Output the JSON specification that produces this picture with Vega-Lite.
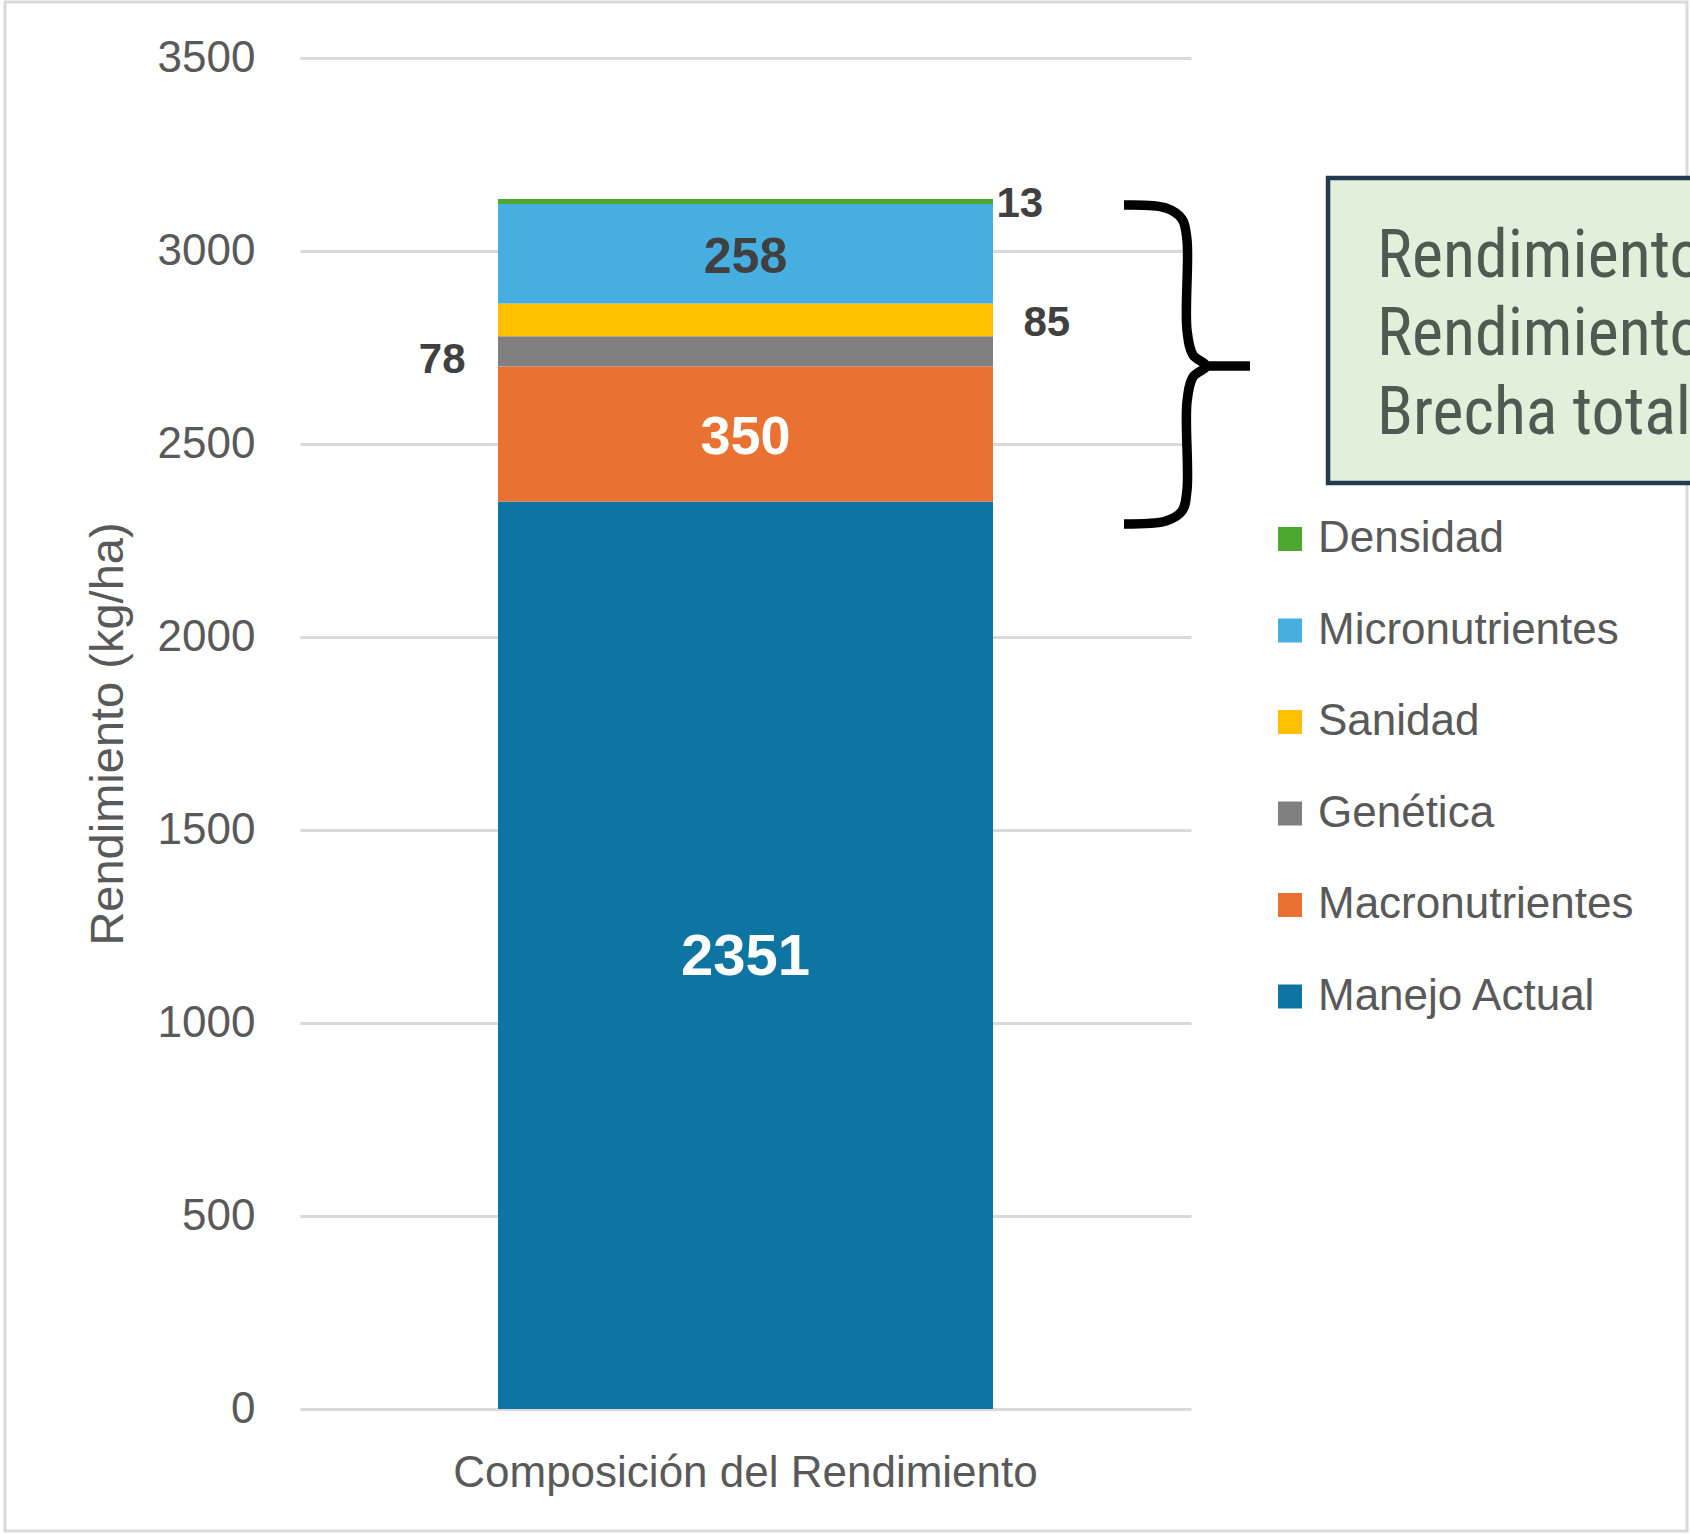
{
  "$schema": "https://vega.github.io/schema/vega-lite/v6.json",
  "width": 891,
  "height": 1351,
  "autosize": {"type": "none"},
  "padding": {"left": 300, "top": 58, "right": 499, "bottom": 125},
  "background": "#ffffff",
  "config": {"view": {"stroke": null}, "font": "Liberation Sans, Arial, sans-serif"},
  "datasets": {
    "rendimiento": [
      {"categoria": "Composición del Rendimiento", "serie": "Manejo Actual", "valor": 2351, "orden": 1},
      {"categoria": "Composición del Rendimiento", "serie": "Macronutrientes", "valor": 350, "orden": 2},
      {"categoria": "Composición del Rendimiento", "serie": "Genética", "valor": 78, "orden": 3},
      {"categoria": "Composición del Rendimiento", "serie": "Sanidad", "valor": 85, "orden": 4},
      {"categoria": "Composición del Rendimiento", "serie": "Micronutrientes", "valor": 258, "orden": 5},
      {"categoria": "Composición del Rendimiento", "serie": "Densidad", "valor": 13, "orden": 6}
    ],
    "llave": [
      {"trazo": "curva", "paso": 1, "bx": 0.9248, "by": 3119.2},
      {"trazo": "curva", "paso": 2, "bx": 0.9719, "by": 3111.4},
      {"trazo": "curva", "paso": 3, "bx": 0.9899, "by": 3082.9},
      {"trazo": "curva", "paso": 4, "bx": 0.9955, "by": 3028.5},
      {"trazo": "curva", "paso": 5, "bx": 0.9955, "by": 2795.3},
      {"trazo": "curva", "paso": 6, "bx": 1.0022, "by": 2730.6},
      {"trazo": "curva", "paso": 7, "bx": 1.0168, "by": 2702.1},
      {"trazo": "curva", "paso": 8, "bx": 1.0022, "by": 2673.6},
      {"trazo": "curva", "paso": 9, "bx": 0.9955, "by": 2608.8},
      {"trazo": "curva", "paso": 10, "bx": 0.9955, "by": 2380.8},
      {"trazo": "curva", "paso": 11, "bx": 0.9899, "by": 2326.4},
      {"trazo": "curva", "paso": 12, "bx": 0.9719, "by": 2300.5},
      {"trazo": "curva", "paso": 13, "bx": 0.9248, "by": 2292.7},
      {"trazo": "punta", "paso": 1, "bx": 1.0101, "by": 2702.1},
      {"trazo": "punta", "paso": 2, "bx": 1.0662, "by": 2702.1}
    ],
    "recuadro": [
      {"x1": 1.1538, "x2": 1.75, "y1": 3189.1, "y2": 2399.0}
    ],
    "textos": [
      {"linea": "Rendimiento", "tx": 1.2088, "ty": 2984},
      {"linea": "Rendimiento", "tx": 1.2088, "ty": 2782},
      {"linea": "Brecha total", "tx": 1.2088, "ty": 2577}
    ],
    "marco": [
      {"x1": -0.3311, "x2": 1.5567, "y1": 3645, "y2": -316}
    ]
  },
  "layer": [
    {
      "data": {"name": "rendimiento"},
      "encoding": {
        "x": {
          "field": "categoria", "type": "nominal",
          "scale": {"paddingInner": 0, "paddingOuter": 0.4},
          "axis": {"title": null, "labelAngle": 0, "domain": false, "ticks": false, "labelFontSize": 44, "labelColor": "#595959", "labelPadding": 42, "labelLimit": 1200}
        },
        "y": {
          "field": "valor", "type": "quantitative", "stack": "zero",
          "scale": {"domain": [0, 3500], "nice": false},
          "axis": {
            "values": [0, 500, 1000, 1500, 2000, 2500, 3000, 3500],
            "format": "d",
            "grid": true, "gridColor": "#d9d9d9", "gridWidth": 3,
            "domain": false, "ticks": false,
            "labelFontSize": 44, "labelColor": "#595959", "labelPadding": 45,
            "title": "Rendimiento (kg/ha)", "titleFontSize": 47, "titleFontWeight": "normal", "titleColor": "#595959", "titlePadding": 25
          }
        },
        "detail": {"field": "serie", "type": "nominal"},
        "order": {"field": "orden", "type": "quantitative"}
      },
      "layer": [
        {
          "mark": {"type": "bar"},
          "encoding": {
            "color": {
              "field": "serie", "type": "nominal",
              "scale": {
                "domain": ["Manejo Actual", "Macronutrientes", "Genética", "Sanidad", "Micronutrientes", "Densidad"],
                "range": ["#0e75a2", "#e97132", "#808080", "#ffc000", "#46aee0", "#4ea72e"]
              },
              "legend": {
                "title": null, "orient": "none", "legendX": 968, "legendY": 459,
                "values": ["Densidad", "Micronutrientes", "Sanidad", "Genética", "Macronutrientes", "Manejo Actual"],
                "symbolType": "square", "symbolSize": 576, "symbolStrokeWidth": 0,
                "labelFontSize": 44, "labelColor": "#595959", "labelOffset": 6, "labelLimit": 600,
                "rowPadding": 47.5, "padding": 0
              }
            }
          }
        },
        {
          "mark": {"type": "text", "fontWeight": "bold", "fontSize": 58, "color": "#ffffff", "baseline": "middle", "dy": 3},
          "encoding": {
            "y": {"field": "valor", "type": "quantitative", "stack": "zero", "bandPosition": 0.5},
            "text": {"condition": {"test": "datum.serie === 'Manejo Actual'", "field": "valor", "type": "quantitative", "format": "d"}, "value": ""}
          }
        },
        {
          "mark": {"type": "text", "fontWeight": "bold", "fontSize": 54, "color": "#ffffff", "baseline": "middle", "dy": 4},
          "encoding": {
            "y": {"field": "valor", "type": "quantitative", "stack": "zero", "bandPosition": 0.5},
            "text": {"condition": {"test": "datum.serie === 'Macronutrientes'", "field": "valor", "type": "quantitative", "format": "d"}, "value": ""}
          }
        },
        {
          "mark": {"type": "text", "fontWeight": "bold", "fontSize": 50, "color": "#404040", "baseline": "middle", "dy": 4},
          "encoding": {
            "y": {"field": "valor", "type": "quantitative", "stack": "zero", "bandPosition": 0.5},
            "text": {"condition": {"test": "datum.serie === 'Micronutrientes'", "field": "valor", "type": "quantitative", "format": "d"}, "value": ""}
          }
        },
        {
          "mark": {"type": "text", "fontWeight": "bold", "fontSize": 42, "color": "#404040", "baseline": "middle", "align": "right", "dx": -280, "dy": 9},
          "encoding": {
            "y": {"field": "valor", "type": "quantitative", "stack": "zero", "bandPosition": 0.5},
            "text": {"condition": {"test": "datum.serie === 'Genética'", "field": "valor", "type": "quantitative", "format": "d"}, "value": ""}
          }
        },
        {
          "mark": {"type": "text", "fontWeight": "bold", "fontSize": 42, "color": "#404040", "baseline": "middle", "align": "left", "dx": 278, "dy": 3},
          "encoding": {
            "y": {"field": "valor", "type": "quantitative", "stack": "zero", "bandPosition": 0.5},
            "text": {"condition": {"test": "datum.serie === 'Sanidad'", "field": "valor", "type": "quantitative", "format": "d"}, "value": ""}
          }
        },
        {
          "mark": {"type": "text", "fontWeight": "bold", "fontSize": 42, "color": "#404040", "baseline": "middle", "align": "left", "dx": 251, "dy": 3},
          "encoding": {
            "y": {"field": "valor", "type": "quantitative", "stack": "zero", "bandPosition": 0.5},
            "text": {"condition": {"test": "datum.serie === 'Densidad'", "field": "valor", "type": "quantitative", "format": "d"}, "value": ""}
          }
        }
      ]
    },
    {
      "layer": [
        {
          "data": {"name": "marco"},
          "mark": {"type": "rect", "fill": "transparent", "stroke": "#d9d9d9", "strokeWidth": 3},
          "encoding": {
            "x": {"field": "x1", "type": "quantitative", "scale": {"domain": [0, 1], "nice": false, "zero": false}, "axis": null},
            "x2": {"field": "x2"},
            "y": {"field": "y1", "type": "quantitative", "scale": {"domain": [0, 3500], "nice": false}, "axis": null},
            "y2": {"field": "y2"}
          }
        },
        {
          "data": {"name": "llave"},
          "mark": {"type": "line", "color": "#000000", "strokeWidth": 9.5, "interpolate": "catmull-rom"},
          "encoding": {
            "x": {"field": "bx", "type": "quantitative", "scale": {"domain": [0, 1], "nice": false, "zero": false}, "axis": null},
            "y": {"field": "by", "type": "quantitative", "scale": {"domain": [0, 3500], "nice": false}, "axis": null},
            "detail": {"field": "trazo", "type": "nominal"},
            "order": {"field": "paso", "type": "quantitative"}
          }
        },
        {
          "data": {"name": "recuadro"},
          "mark": {"type": "rect", "fill": "#e2efda", "stroke": "#243a50", "strokeWidth": 4.5},
          "encoding": {
            "x": {"field": "x1", "type": "quantitative", "scale": {"domain": [0, 1], "nice": false, "zero": false}, "axis": null},
            "x2": {"field": "x2"},
            "y": {"field": "y1", "type": "quantitative", "scale": {"domain": [0, 3500], "nice": false}, "axis": null},
            "y2": {"field": "y2"}
          }
        },
        {
          "data": {"name": "textos"},
          "mark": {"type": "text", "align": "left", "baseline": "middle", "fontSize": 66, "color": "#4e5b52", "font": "Roboto Condensed, Liberation Sans Narrow, DejaVu Sans Condensed, Roboto, sans-serif"},
          "encoding": {
            "x": {"field": "tx", "type": "quantitative", "scale": {"domain": [0, 1], "nice": false, "zero": false}, "axis": null},
            "y": {"field": "ty", "type": "quantitative", "scale": {"domain": [0, 3500], "nice": false}, "axis": null},
            "text": {"field": "linea", "type": "nominal"}
          }
        }
      ]
    }
  ],
  "resolve": {"scale": {"x": "independent"}, "axis": {"y": "independent"}}
}
